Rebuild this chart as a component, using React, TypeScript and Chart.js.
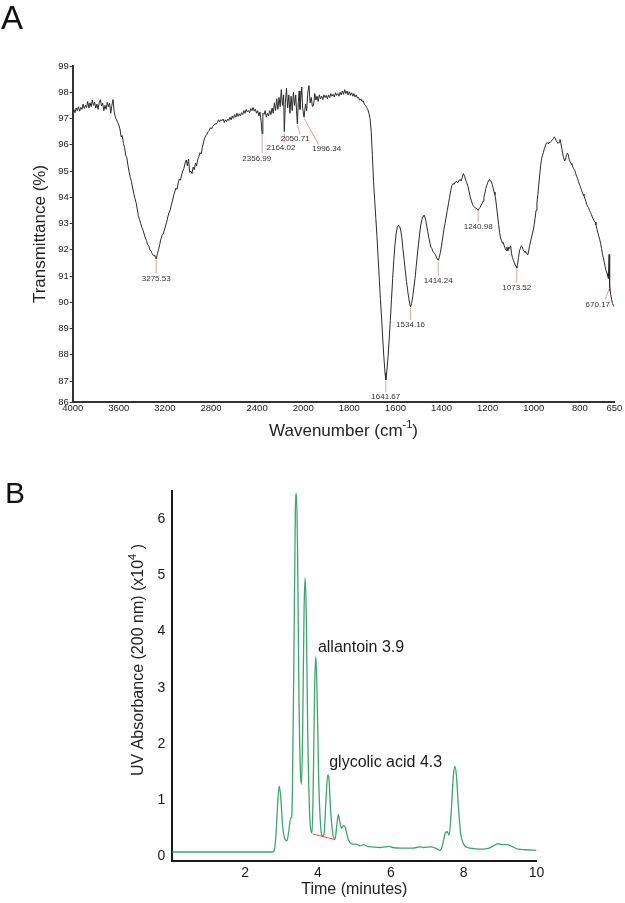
import React, { useEffect, useRef } from 'react';
import { Chart, registerables } from 'chart.js';

Chart.register(...registerables);

const FONT = "'Liberation Sans', Arial, Helvetica, sans-serif";

// ---------------- Panel A : FTIR spectrum ----------------
const irWavenumber = [
  4000, 3990, 3980, 3970, 3960, 3950, 3940, 3930, 3920, 3910, 3900, 3890, 3880, 3870, 3860, 3850, 3840, 3830, 3820, 3810,
  3800, 3790, 3780, 3770, 3760, 3750, 3740, 3730, 3720, 3710, 3700, 3690, 3680, 3670, 3660, 3650, 3640, 3630, 3620, 3610,
  3600, 3590, 3580, 3570, 3560, 3550, 3540, 3530, 3520, 3510, 3500, 3490, 3480, 3470, 3460, 3450, 3440, 3430, 3420, 3410,
  3400, 3390, 3380, 3370, 3360, 3350, 3340, 3330, 3320, 3310, 3300, 3290, 3280, 3275.53, 3265, 3255, 3245, 3235, 3225, 3215,
  3205, 3195, 3185, 3175, 3165, 3155, 3145, 3135, 3125, 3115, 3105, 3095, 3085, 3075, 3065, 3055, 3045, 3035, 3025, 3015,
  3005, 2995, 2985, 2975, 2965, 2955, 2945, 2935, 2925, 2915, 2905, 2895, 2885, 2875, 2865, 2855, 2845, 2835, 2825, 2815,
  2805, 2795, 2785, 2775, 2765, 2755, 2745, 2735, 2725, 2715, 2705, 2695, 2685, 2675, 2665, 2655, 2645, 2635, 2625, 2615,
  2605, 2595, 2585, 2575, 2565, 2555, 2545, 2535, 2525, 2515, 2505, 2495, 2485, 2475, 2465, 2455, 2445, 2435, 2425, 2415,
  2405, 2395, 2385, 2375, 2365, 2356.99, 2350, 2340, 2330, 2320, 2310, 2300, 2290, 2280, 2270, 2260, 2250, 2240, 2230, 2220,
  2210, 2200, 2190, 2180, 2170, 2164.02, 2155, 2145, 2135, 2125, 2115, 2105, 2095, 2085, 2075, 2065, 2058, 2050.71, 2043, 2035,
  2028, 2020, 2012, 2005, 1996.34, 1990, 1985, 1980, 1975, 1970, 1965, 1960, 1955, 1950, 1945, 1940, 1935, 1930, 1925, 1920,
  1915, 1910, 1905, 1900, 1895, 1890, 1885, 1880, 1875, 1870, 1865, 1860, 1855, 1850, 1845, 1840, 1835, 1830, 1825, 1820,
  1815, 1810, 1805, 1800, 1795, 1790, 1785, 1780, 1775, 1770, 1765, 1760, 1755, 1750, 1745, 1740, 1735, 1730, 1725, 1720,
  1715, 1710, 1705, 1700, 1695, 1690, 1685, 1680, 1675, 1670, 1665, 1660, 1655, 1650, 1645, 1641.67, 1637, 1632, 1627, 1622,
  1617, 1612, 1607, 1602, 1597, 1592, 1587, 1582, 1577, 1572, 1567, 1562, 1557, 1552, 1547, 1542, 1537, 1534.16, 1530, 1525,
  1520, 1515, 1510, 1505, 1500, 1495, 1490, 1485, 1480, 1476, 1472, 1468, 1464, 1460, 1455, 1450, 1446, 1442, 1438, 1434,
  1430, 1426, 1422, 1418, 1414.24, 1410, 1405, 1400, 1395, 1390, 1385, 1380, 1375, 1370, 1365, 1360, 1355, 1350, 1345, 1340,
  1335, 1330, 1325, 1320, 1315, 1310, 1305, 1300, 1295, 1290, 1285, 1280, 1275, 1270, 1265, 1260, 1255, 1250, 1245, 1240.98,
  1236, 1232, 1228, 1224, 1220, 1216, 1212, 1208, 1204, 1200, 1196, 1192, 1188, 1184, 1180, 1176, 1172, 1168, 1164, 1160,
  1156, 1152, 1148, 1144, 1140, 1136, 1132, 1128, 1124, 1120, 1116, 1112, 1108, 1104, 1100, 1096, 1092, 1088, 1084, 1080,
  1076, 1073.52, 1070, 1066, 1062, 1058, 1054, 1050, 1046, 1042, 1038, 1034, 1030, 1026, 1022, 1018, 1014, 1010, 1006, 1002,
  998, 994, 990, 986, 982, 978, 974, 970, 966, 962, 958, 954, 950, 946, 942, 938, 934, 930, 926, 922,
  918, 914, 910, 906, 902, 898, 894, 890, 886, 882, 878, 874, 870, 866, 862, 858, 854, 850, 846, 842,
  838, 834, 830, 826, 822, 818, 814, 810, 806, 802, 798, 794, 790, 786, 782, 778, 774, 770, 766, 762,
  758, 754, 750, 746, 742, 738, 734, 730, 726, 722, 718, 714, 710, 706, 702, 698, 694, 690, 686, 682,
  678, 676, 673, 671, 670.17, 666, 662, 658, 654, 650,
];
const irTransmittance = [
  97.26, 97.35, 97.22, 97.4, 97.3, 97.45, 97.28, 97.42, 97.35, 97.55, 97.38, 97.5, 97.42, 97.65, 97.4, 97.6, 97.45, 97.7, 97.5, 97.62,
  97.4, 97.55, 97.35, 97.6, 97.72, 97.48, 97.58, 97.3, 97.5, 97.35, 97.62, 97.45, 97.58, 97.2, 97.5, 97.72, 97.25, 97.05, 96.95, 96.85,
  96.75, 96.6, 96.3, 96.35, 96.05, 95.9, 95.6, 95.5, 95.2, 94.95, 94.75, 94.6, 94.35, 94.15, 93.95, 93.8, 93.55, 93.3, 93.15, 93.0,
  92.85, 92.75, 92.6, 92.45, 92.35, 92.2, 92.15, 92.0, 91.95, 91.85, 91.78, 91.8, 91.7, 91.65, 91.85, 92.0, 92.2, 92.4, 92.55, 92.6,
  92.75, 92.9, 93.05, 93.25, 93.4, 93.5, 93.7, 93.85, 94.05, 94.2, 94.35, 94.3, 94.55, 94.7, 94.65, 94.85, 95.0, 95.1, 95.3, 95.42,
  95.2, 95.45, 94.95, 95.0, 94.9, 95.15, 95.05, 95.3, 95.2, 95.45, 95.55, 95.7, 95.65, 95.9, 96.1, 96.25, 96.35, 96.4, 96.5, 96.55,
  96.65, 96.6, 96.7, 96.75, 96.8, 96.78, 96.85, 96.95, 96.88, 96.95, 96.92, 96.98, 96.85, 96.95, 96.88, 96.98, 96.92, 97.05, 96.95, 97.1,
  97.0, 97.15, 97.05, 97.2, 97.08, 97.18, 97.1, 97.22, 97.15, 97.3, 97.2, 97.35, 97.25, 97.3, 97.22, 97.38, 97.3, 97.42, 97.28, 97.35,
  97.2, 97.3, 97.1, 97.25, 96.9, 96.42, 97.2, 97.15, 97.3, 97.05, 97.2, 97.1, 97.3, 97.15, 97.4, 97.2, 97.6, 97.3, 97.75, 97.35,
  97.8, 97.45, 98.1, 97.5, 97.9, 96.5, 97.6, 98.15, 97.4, 97.9, 97.2, 97.85, 97.3, 98.0, 97.5, 97.9, 97.3, 96.8, 97.6, 98.05,
  97.35, 97.8, 98.2, 97.4, 97.05, 97.55, 97.3, 98.0, 98.25, 97.6, 97.8, 97.45, 97.5, 97.95, 97.7, 97.85, 97.65, 97.9, 97.75, 97.85,
  97.72, 97.9, 97.8, 97.88, 97.75, 97.9, 97.8, 97.95, 97.85, 97.92, 97.82, 97.98, 97.88, 97.95, 97.85, 98.0, 97.9, 98.05, 97.92, 98.1,
  97.95, 98.05, 97.9, 98.02, 97.88, 97.98, 97.85, 97.95, 97.82, 97.9, 97.78, 97.8, 97.7, 97.75, 97.65, 97.68, 97.55, 97.5, 97.42, 97.35,
  97.2, 97.0, 96.5, 95.6, 94.6, 93.9, 93.2, 92.5, 91.7, 90.9, 90.1, 89.4, 88.6, 87.9, 87.3, 87.05, 87.4, 87.9, 88.6, 89.3,
  90.1, 90.9, 91.6, 92.2, 92.6, 92.85, 92.92, 92.9, 92.75, 92.45, 92.0, 91.6, 91.2, 90.8, 90.45, 90.15, 89.9, 89.82, 89.95, 90.2,
  90.55, 90.9, 91.35, 91.8, 92.2, 92.6, 92.95, 93.15, 93.28, 93.32, 93.25, 93.1, 92.9, 92.7, 92.45, 92.25, 92.1, 92.05, 91.95, 91.9,
  91.85, 91.8, 91.72, 91.65, 91.6, 91.7, 91.9, 92.15, 92.45, 92.75, 93.0, 93.25, 93.5, 93.75, 94.0, 94.25, 94.45, 94.52, 94.5, 94.58,
  94.6, 94.55, 94.62, 94.68, 94.62, 94.75, 94.9, 94.8, 94.65, 94.55, 94.4, 94.2, 94.0, 93.85, 93.72, 93.65, 93.6, 93.58, 93.55, 93.5,
  93.58, 93.62, 93.7, 93.76, 93.85, 94.0, 94.15, 94.32, 94.45, 94.55, 94.62, 94.68, 94.62, 94.6, 94.5, 94.35, 94.2, 94.1, 93.85, 93.55,
  93.25, 92.95, 92.65, 92.45, 92.35, 92.25, 92.28, 92.15, 92.05, 91.98, 92.1, 91.95, 92.1, 92.05, 92.15, 91.85, 91.7, 91.6, 91.5, 91.42,
  91.36, 91.3, 91.45, 91.7, 91.95, 92.05, 92.15, 92.12, 92.0, 91.95, 91.9, 91.92, 91.85, 91.8, 91.95, 92.15, 92.3, 92.45, 92.6, 92.75,
  92.95, 93.2, 93.5, 93.8, 94.1, 94.5, 94.85, 95.2, 95.45, 95.6, 95.7, 95.85, 95.95, 96.05, 96.08, 96.05, 96.1, 96.08, 96.12, 96.15,
  96.2, 96.25, 96.3, 96.22, 96.15, 96.1, 96.05, 96.1, 96.2, 96.05, 95.85, 95.65, 95.5, 95.38, 95.45, 95.6, 95.68, 95.62, 95.45, 95.35,
  95.28, 95.25, 95.15, 95.08, 95.02, 94.9, 94.8, 94.72, 94.6, 94.5, 94.42, 94.3, 94.2, 94.12, 94.05, 93.95, 93.85, 93.72, 93.65, 93.6,
  93.5, 93.42, 93.35, 93.25, 93.18, 93.1, 93.05, 92.95, 92.8, 92.65, 92.52, 92.4, 92.25, 92.05, 91.85, 91.7, 91.52, 91.35, 91.2, 91.1,
  90.98, 90.9, 91.82, 90.45, 90.6, 90.3, 90.1, 89.95, 89.88, 89.82,
];
const irXTickLabels = [4000, 3600, 3200, 2800, 2400, 2000, 1800, 1600, 1400, 1200, 1000, 800, 650];
const irYTickLabels = [86, 87, 88, 89, 90, 91, 92, 93, 94, 95, 96, 97, 98, 99];
const irYMin = 86.2;
const irYMax = 99;

const peakText = ['3275.53', '2356.99', '2164.02', '2050.71', '1996.34', '1641.67', '1534.16', '1414.24', '1240.98', '1073.52', '670.17'];
const peakTipWn = [3275.53, 2356.99, 2164.02, 2050.71, 1996.34, 1641.67, 1534.16, 1414.24, 1240.98, 1073.52, 670.17];
const peakTipT = [91.65, 96.45, 96.5, 96.8, 97.05, 87.05, 89.82, 91.6, 93.5, 91.3, 90.6];
const peakLineEndWn = [3275.53, 2356.99, 2164.02, 2027, 1934, 1641.67, 1534.16, 1414.24, 1240.98, 1073.52, 690];
const peakLabelWn = [3275.53, 2403, 2193, 2070, 1898, 1641.67, 1534.16, 1414.24, 1240.98, 1073.52, 722];
const peakLabelT = [90.91, 95.48, 95.88, 96.21, 95.83, 86.4, 89.13, 90.82, 92.86, 90.55, 89.92];

// ---------------- Panel B : HPLC chromatogram ----------------
const hplcTime = [
  0, 0.5, 1.0, 1.5, 2.0, 2.5, 2.75, 2.8, 2.85, 2.9, 2.94, 2.98, 3.03, 3.1, 3.15, 3.2, 3.25, 3.28, 3.3, 3.34,
  3.38, 3.41, 3.44, 3.48, 3.52, 3.55, 3.58, 3.62, 3.65, 3.68, 3.72, 3.77, 3.81, 3.84, 3.87, 3.91, 3.94, 3.97, 4.02, 4.08,
  4.13, 4.17, 4.22, 4.27, 4.3, 4.35, 4.41, 4.47, 4.51, 4.56, 4.6, 4.65, 4.7, 4.75, 4.8, 4.85, 4.95, 5.05, 5.15, 5.25,
  5.35, 5.5, 5.7, 5.85, 5.95, 6.05, 6.3, 6.6, 6.8, 6.9, 7.1, 7.25, 7.35, 7.42, 7.5, 7.55, 7.6, 7.66, 7.72, 7.76,
  7.8, 7.86, 7.92, 8.0, 8.1, 8.3, 8.5, 8.7, 8.85, 8.95, 9.05, 9.2, 9.35, 9.5, 9.7, 10.0,
];
const hplcAbsorbance = [
  0.08, 0.08, 0.08, 0.08, 0.08, 0.08, 0.08, 0.1, 0.4, 1.0, 1.25, 1.05, 0.55, 0.3, 0.28, 0.45, 0.68, 0.7, 1.2, 3.5,
  6.1, 6.45, 5.5, 2.8, 1.5, 1.28, 2.2, 4.4, 4.95, 4.3, 2.2, 0.8, 0.45, 0.42, 1.2, 3.0, 3.55, 3.1, 1.4, 0.5,
  0.36, 0.4, 1.0, 1.45, 1.4, 0.8, 0.4, 0.31, 0.5, 0.75, 0.62, 0.5, 0.55, 0.52, 0.38, 0.28, 0.22, 0.22, 0.19, 0.21,
  0.18, 0.17, 0.16, 0.17, 0.18, 0.16, 0.15, 0.15, 0.17, 0.16, 0.17, 0.14, 0.11, 0.2, 0.42, 0.44, 0.38, 0.8, 1.45, 1.6,
  1.45, 0.85, 0.4, 0.22, 0.16, 0.14, 0.13, 0.15, 0.2, 0.23, 0.21, 0.21, 0.17, 0.13, 0.12, 0.11,
];
const baselineTime = [3.86, 4.47];
const baselineAbsorbance = [0.4, 0.3];
const hplcXTicks = [2, 4, 6, 8, 10];
const hplcYTicks = [0, 1, 2, 3, 4, 5, 6];
const annotationText = ['allantoin 3.9', 'glycolic acid 4.3'];
const annotationTime = [4.0, 4.31];
const annotationAbsorbance = [3.71, 1.66];

// wavenumber axis: 1x scale above 2000 cm-1, 2x expanded below 2000 cm-1
const toAxis = (wn: number) => (wn >= 2000 ? 4000 - wn : 2000 + 2 * (2000 - wn));

type Part = { t: string; sup?: boolean };

function drawParts(ctx: CanvasRenderingContext2D, parts: Part[], cx: number, cy: number, size: number, supSize: number) {
  const widths = parts.map((p) => {
    ctx.font = `${p.sup ? supSize : size}px ${FONT}`;
    return ctx.measureText(p.t).width;
  });
  const total = widths.reduce((a, b) => a + b, 0);
  let x = cx - total / 2;
  ctx.textAlign = 'left';
  ctx.textBaseline = 'middle';
  parts.forEach((p, i) => {
    ctx.font = `${p.sup ? supSize : size}px ${FONT}`;
    ctx.fillText(p.t, x, p.sup ? cy - size * 0.38 : cy);
    x += widths[i];
  });
}

const irOverlay = {
  id: 'irOverlay',
  afterDatasetsDraw(chart: any) {
    const ctx = chart.ctx as CanvasRenderingContext2D;
    const xs = chart.scales.x;
    const ys = chart.scales.y;
    ctx.save();
    ctx.strokeStyle = '#c98f8f';
    ctx.lineWidth = 0.8;
    ctx.fillStyle = '#333';
    ctx.font = `8px ${FONT}`;
    ctx.textAlign = 'center';
    ctx.textBaseline = 'middle';
    peakText.forEach((t, i) => {
      const tx = xs.getPixelForValue(toAxis(peakTipWn[i]));
      const ty = ys.getPixelForValue(peakTipT[i]);
      const ex = xs.getPixelForValue(toAxis(peakLineEndWn[i]));
      const lx = xs.getPixelForValue(toAxis(peakLabelWn[i]));
      const ly = ys.getPixelForValue(peakLabelT[i]);
      ctx.beginPath();
      ctx.moveTo(tx, ty + 1);
      ctx.lineTo(ex, ly - 5);
      ctx.stroke();
      ctx.fillText(t, lx, ly);
    });
    ctx.restore();
  },
  afterDraw(chart: any) {
    const ctx = chart.ctx as CanvasRenderingContext2D;
    const area = chart.chartArea;
    ctx.save();
    ctx.fillStyle = '#111';
    ctx.font = `33px ${FONT}`;
    ctx.textAlign = 'left';
    ctx.textBaseline = 'alphabetic';
    ctx.fillText('A', 1, 28.5);
    ctx.fillStyle = '#222';
    drawParts(ctx, [{ t: 'Wavenumber (cm' }, { t: '-1', sup: true }, { t: ')' }], (area.left + area.right) / 2, 431, 17, 11);
    ctx.translate(40, (area.top + area.bottom) / 2);
    ctx.rotate(-Math.PI / 2);
    drawParts(ctx, [{ t: 'Transmittance (%)' }], 0, 0, 17, 11);
    ctx.restore();
  },
};

const hplcOverlay = {
  id: 'hplcOverlay',
  afterDraw(chart: any) {
    const ctx = chart.ctx as CanvasRenderingContext2D;
    const xs = chart.scales.x;
    const ys = chart.scales.y;
    const area = chart.chartArea;
    ctx.save();
    ctx.fillStyle = '#111';
    ctx.font = `30px ${FONT}`;
    ctx.textAlign = 'left';
    ctx.textBaseline = 'alphabetic';
    ctx.fillText('B', 5, 53.3);
    ctx.fillStyle = '#1a1a1a';
    ctx.font = `16px ${FONT}`;
    ctx.textBaseline = 'middle';
    annotationText.forEach((t, i) => {
      ctx.fillText(t, xs.getPixelForValue(annotationTime[i]), ys.getPixelForValue(annotationAbsorbance[i]));
    });
    ctx.fillStyle = '#222';
    drawParts(ctx, [{ t: 'Time (minutes)' }], (area.left + area.right) / 2, 440, 16, 11);
    ctx.translate(139, 210);
    ctx.rotate(-Math.PI / 2);
    drawParts(ctx, [{ t: 'UV Absorbance (200 nm) (x10' }, { t: '4', sup: true }, { t: ' )' }], 0, 0, 16, 11);
    ctx.restore();
  },
};

function IrChart() {
  const ref = useRef<HTMLCanvasElement | null>(null);
  useEffect(() => {
    if (!ref.current) return;
    const data = irWavenumber.map((w, i) => ({ x: toAxis(w), y: irTransmittance[i] }));
    const chart = new Chart(ref.current, {
      type: 'line',
      data: {
        datasets: [
          {
            data,
            borderColor: '#2a2a2a',
            borderWidth: 1,
            pointRadius: 0,
            tension: 0,
            fill: false,
          },
        ],
      },
      options: {
        responsive: false,
        animation: false,
        events: [],
        layout: { padding: { left: 0, top: 66, right: 10.6, bottom: 0 } },
        plugins: { legend: { display: false }, tooltip: { enabled: false }, title: { display: false } },
        scales: {
          x: {
            type: 'linear',
            min: 0,
            max: toAxis(650),
            grid: { display: false, drawTicks: false },
            border: { display: true, color: '#333', width: 2 },
            afterBuildTicks: (s: any) => {
              s.ticks = irXTickLabels.map((w) => ({ value: toAxis(w) }));
            },
            afterFit: (s: any) => {
              s.height = 48;
            },
            ticks: {
              autoSkip: false,
              maxRotation: 0,
              padding: 1,
              color: '#222',
              font: { family: FONT, size: 9.5 },
              callback: (_v: any, i: number) => String(irXTickLabels[i]),
            },
          },
          y: {
            type: 'linear',
            min: irYMin,
            max: irYMax,
            grid: { display: true, drawOnChartArea: false, drawTicks: true, tickLength: 3, color: '#333' },
            border: { display: true, color: '#333', width: 2 },
            afterBuildTicks: (s: any) => {
              s.ticks = irYTickLabels.map((v) => ({ value: Math.max(v, irYMin) }));
            },
            afterFit: (s: any) => {
              s.width = 72.7;
            },
            ticks: {
              autoSkip: false,
              padding: 1,
              color: '#222',
              font: { family: FONT, size: 9.5 },
              callback: (_v: any, i: number) => String(irYTickLabels[i]),
            },
          },
        },
      },
      plugins: [irOverlay],
    });
    return () => chart.destroy();
  }, []);
  return <canvas ref={ref} width={625} height={450} style={{ display: 'block', width: 625, height: 450 }} />;
}

function HplcChart() {
  const ref = useRef<HTMLCanvasElement | null>(null);
  useEffect(() => {
    if (!ref.current) return;
    const main = hplcTime.map((t, i) => ({ x: t, y: hplcAbsorbance[i] }));
    const base = baselineTime.map((t, i) => ({ x: t, y: baselineAbsorbance[i] }));
    const chart = new Chart(ref.current, {
      type: 'line',
      data: {
        datasets: [
          {
            data: base,
            borderColor: '#e0524c',
            borderWidth: 1,
            pointRadius: 0,
            tension: 0,
            fill: false,
          },
          {
            data: main,
            borderColor: '#3fa46f',
            borderWidth: 1.3,
            pointRadius: 0,
            cubicInterpolationMode: 'monotone',
            fill: false,
          },
        ],
      },
      options: {
        responsive: false,
        animation: false,
        events: [],
        layout: { padding: { left: 0, top: 40.7, right: 88.5, bottom: 0 } },
        plugins: { legend: { display: false }, tooltip: { enabled: false }, title: { display: false } },
        scales: {
          x: {
            type: 'linear',
            min: 0,
            max: 10,
            grid: { display: false, drawTicks: false },
            border: { display: true, color: '#1a1a1a', width: 2 },
            afterBuildTicks: (s: any) => {
              s.ticks = hplcXTicks.map((v) => ({ value: v }));
            },
            afterFit: (s: any) => {
              s.height = 42;
            },
            ticks: {
              autoSkip: false,
              maxRotation: 0,
              padding: 4,
              color: '#1a1a1a',
              font: { family: FONT, size: 14 },
              callback: (_v: any, i: number) => String(hplcXTicks[i]),
            },
          },
          y: {
            type: 'linear',
            min: -0.08,
            max: 6.5,
            grid: { display: false, drawTicks: false },
            border: { display: true, color: '#1a1a1a', width: 2 },
            afterBuildTicks: (s: any) => {
              s.ticks = hplcYTicks.map((v) => ({ value: v }));
            },
            afterFit: (s: any) => {
              s.width = 172.2;
            },
            ticks: {
              autoSkip: false,
              padding: 7,
              color: '#1a1a1a',
              font: { family: FONT, size: 14 },
              callback: (_v: any, i: number) => String(hplcYTicks[i]),
            },
          },
        },
      },
      plugins: [hplcOverlay],
    });
    return () => chart.destroy();
  }, []);
  return <canvas ref={ref} width={625} height={453} style={{ display: 'block', width: 625, height: 453 }} />;
}

export default function App() {
  return (
    <div style={{ position: 'absolute', left: 0, top: 0, width: 625, height: 903, background: '#fff' }}>
      <IrChart />
      <HplcChart />
    </div>
  );
}
